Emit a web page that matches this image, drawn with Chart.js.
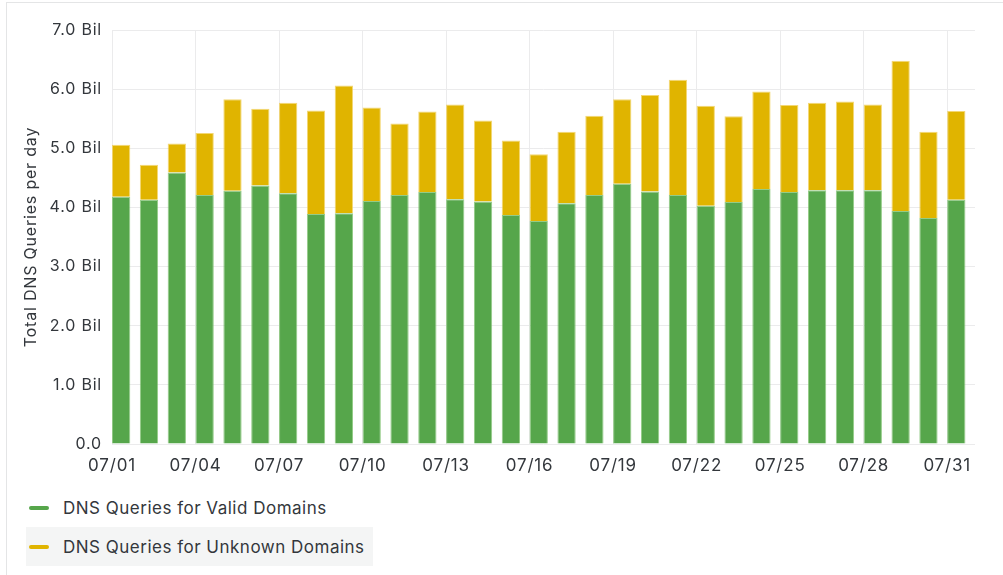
<!DOCTYPE html>
<html>
<head>
<meta charset="utf-8">
<script src="https://cdn.jsdelivr.net/npm/chart.js@4.4.1/dist/chart.umd.min.js"></script>
<style>
  html, body { margin: 0; padding: 0; background: #fff; overflow: hidden; }
  body { width: 1003px; height: 575px; position: relative; font-family: Inter, "Noto Sans", sans-serif; }
  #panel { position: absolute; left: 6px; top: 2px; width: 1100px; height: 700px; border-left: 1px solid #e4e5e6; border-top: 1px solid #e4e5e6; }
  #wrap { position: absolute; left: 0; top: 0; width: 1003px; height: 480px; }
  #legend { position: absolute; left: 26px; top: 488px; }
  .item { display: flex; align-items: center; height: 39px; padding: 0 8px 0 3px; font-size: 17px; letter-spacing: 0.5px; color: #33373c; }
  .item.hover { background: #f4f5f5; }
  .mark { width: 20px; height: 4px; border-radius: 2px; margin-right: 14px; }
</style>
</head>
<body>
<div id="panel"></div>
<div id="wrap"><canvas id="chart"></canvas></div>
<div id="legend"></div>
<script>
const days = ['07/01', '07/02', '07/03', '07/04', '07/05', '07/06', '07/07', '07/08', '07/09', '07/10',
    '07/11', '07/12', '07/13', '07/14', '07/15', '07/16', '07/17', '07/18', '07/19', '07/20',
    '07/21', '07/22', '07/23', '07/24', '07/25', '07/26', '07/27', '07/28', '07/29', '07/30', '07/31'];

// billions of queries per day
const validDomains = [4.18, 4.13, 4.59, 4.21, 4.28, 4.37, 4.24, 3.89, 3.90, 4.11,
    4.21, 4.26, 4.14, 4.10, 3.87, 3.77, 4.07, 4.21, 4.40, 4.27,
    4.21, 4.03, 4.09, 4.31, 4.26, 4.29, 4.29, 4.29, 3.94, 3.82, 4.13];
const unknownDomains = [0.88, 0.59, 0.49, 1.05, 1.55, 1.30, 1.53, 1.75, 2.16, 1.58,
    1.21, 1.36, 1.60, 1.37, 1.26, 1.13, 1.21, 1.34, 1.43, 1.63,
    1.95, 1.69, 1.45, 1.65, 1.47, 1.48, 1.50, 1.45, 2.54, 1.46, 1.50];

const yTicks = [0, 1, 2, 3, 4, 5, 6, 7];
const dayTicks = [0, 3, 6, 9, 12, 15, 18, 21, 24, 27, 30]; // index into days

const green = '#56a64b';
const yellow = '#e0b400';
const textColor = '#33373c';
const gridColor = '#ebebec';

// a bit of tracking on canvas text, like the original screenshot
const spacing = {
    id: 'spacing',
    beforeUpdate: (c) => { c.ctx.letterSpacing = '0.8px'; },
    beforeDraw: (c) => { c.ctx.letterSpacing = '0.8px'; },
};

const chartCanvas = document.getElementById('chart');
const chart = new Chart(chartCanvas, {
    type: 'bar',
    data: {
        labels: days,
        datasets: [
            { label: 'DNS Queries for Valid Domains', data: validDomains, stack: 'dns', backgroundColor: green, borderColor: 'rgba(120,190,105,0.8)', borderWidth: 1, borderSkipped: 'bottom' },
            { label: 'DNS Queries for Unknown Domains', data: unknownDomains, stack: 'dns', backgroundColor: yellow, borderColor: 'rgba(240,205,80,0.8)', borderWidth: 1, borderSkipped: 'bottom' },
            // empty second stack: pushes the bars to the left side of each day slot
            { label: '', data: [], stack: 'gap', hideInLegend: true },
        ],
    },
    plugins: [spacing],
    options: {
        responsive: true,
        maintainAspectRatio: false,
        animation: false,
        categoryPercentage: 0.686,
        barPercentage: 1.915,
        layout: { padding: { left: 22, right: 28, top: 30, bottom: 0 } },
        plugins: {
            legend: { display: false },
            tooltip: { enabled: false },
        },
        scales: {
            x: {
                stacked: true,
                display: false,
                offset: true,
            },
            xt: {
                type: 'linear',
                position: 'bottom',
                offset: false,
                min: 0,
                max: days.length,
                afterBuildTicks: (scale) => {
                    scale.ticks = dayTicks.map(v => ({ value: v }));
                },
                afterFit: (scale) => { scale.height = 36; },
                grid: { color: gridColor, drawTicks: false, offset: false },
                border: { display: false },
                ticks: {
                    color: textColor,
                    font: { family: 'Inter', size: 17 },
                    padding: 12,
                    maxRotation: 0,
                    autoSkip: false,
                    callback: (v) => days[v],
                },
            },
            y: {
                stacked: true,
                min: 0,
                max: 7,
                afterBuildTicks: (scale) => {
                    scale.ticks = yTicks.map(v => ({ value: v }));
                },
                afterFit: (scale) => { scale.width = 90; },
                grid: { color: gridColor, drawTicks: false },
                border: { display: false },
                title: {
                    display: true,
                    text: 'Total DNS Queries per day',
                    color: textColor,
                    font: { family: 'Inter', size: 16 },
                    padding: { top: 0, bottom: 0 },
                },
                ticks: {
                    color: textColor,
                    font: { family: 'Inter', size: 16 },
                    padding: 10,
                    callback: (v) => v === 0 ? '0.0' : v.toFixed(1) + ' Bil',
                },
            },
        },
    },
});

// Grafana style list legend built from the datasets
const legendEl = document.getElementById('legend');
chart.data.datasets.filter(ds => !ds.hideInLegend).forEach((ds, i) => {
    const item = document.createElement('div');
    item.className = 'item' + (i === 1 ? ' hover' : '');
    const mark = document.createElement('span');
    mark.className = 'mark';
    mark.style.background = ds.backgroundColor;
    const label = document.createElement('span');
    label.textContent = ds.label;
    item.appendChild(mark);
    item.appendChild(label);
    legendEl.appendChild(item);
});
</script>
</body>
</html>
